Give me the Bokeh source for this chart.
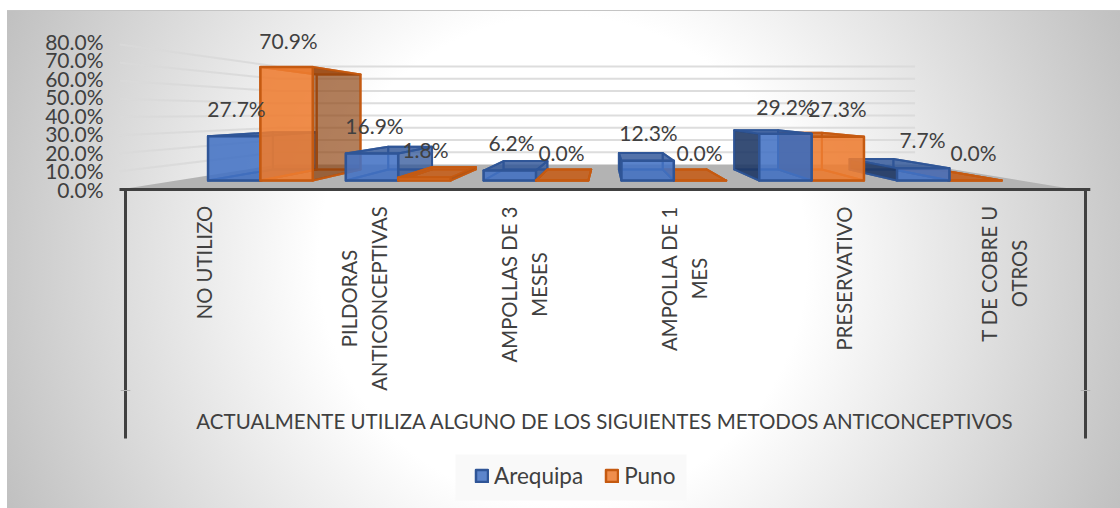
from bokeh.plotting import figure
from bokeh.models import (ColumnDataSource, Range1d, LinearAxis, FixedTicker, PrintfTickFormatter,
                          Legend, LegendItem)
from bokeh.core.properties import value
from bokeh.embed import file_html
from bokeh.resources import INLINE
import math

CATEGORIES = ["NO UTILIZO", "PILDORAS\nANTICONCEPTIVAS", "AMPOLLAS DE 3\nMESES",
              "AMPOLLA DE 1\nMES", "PRESERVATIVO", "T DE COBRE U\nOTROS"]
AREQUIPA = [27.7, 16.9, 6.2, 12.3, 29.2, 7.7]
PUNO = [70.9, 1.8, 0.0, 0.0, 27.3, 0.0]
VALUE_TICKS = [0, 10, 20, 30, 40, 50, 60, 70, 80]
AXIS_TITLE = "ACTUALMENTE UTILIZA ALGUNO DE LOS SIGUIENTES METODOS ANTICONCEPTIVOS"
SERIES_NAMES = ["Arequipa", "Puno"]

# layout (page pixels of the label anchors)
AREQ_LABEL_XY = [(236, 107), (374, 124), (511, 141), (648, 131), (785, 105), (922, 138)]
PUNO_LABEL_XY = [(288, 39), (425, 148), (561, 151), (699, 151), (837, 107), (973, 151)]
CAT_LABEL_MID = [261, 297, 283, 277, 277, 272]

FONT = value("Lato")
TXT = "#404040"
FS = "21px"
CAT_FS = "20.3px"
PAGE_L, PAGE_T = 7, 10
W, H = 1120 - PAGE_L, 508 - PAGE_T
FRAME_L = 101
BASE_Y = 179 - PAGE_T           # zero line of the front plane, frame px
PX_PER_PCT = 1.6
X0 = 191 - PAGE_L - FRAME_L     # category 0 of the bars' plane, frame px
PX_PER_CAT = 137.8
FRAME_W = W - FRAME_L
WALL_Y0 = 177.7

p = figure(width=W, height=H, output_backend="svg", toolbar_location=None,
           x_range=Range1d(-X0 / PX_PER_CAT, (FRAME_W - X0) / PX_PER_CAT),
           y_range=Range1d(-(H - BASE_Y) / PX_PER_PCT, BASE_Y / PX_PER_PCT),
           x_axis_location=None, y_axis_location=None,
           min_border_left=FRAME_L, min_border_right=0, min_border_top=0, min_border_bottom=0,
           margin=(PAGE_T, 0, 0, PAGE_L), outline_line_color=None,
           background_fill_color=None, border_fill_color=None)
p.center = []
p.styles = {
    "background": "radial-gradient(circle 610px at 556px 249px, #ffffff 40%, #c0c0c0 100%)",
    "border-top": "1px solid #c4c4c4",
    "box-sizing": "border-box",
}
p.extra_x_ranges = {"page": Range1d(PAGE_L + FRAME_L, PAGE_L + W),
                    "axis": Range1d((108 - 125) / 160, (1120 - 125) / 160)}
p.extra_y_ranges = {
    "page": Range1d(PAGE_T + H, PAGE_T),
    "wall": Range1d(-(H - WALL_Y0) / 1.846, WALL_Y0 / 1.846),
}

yaxis = LinearAxis(y_range_name="wall", ticker=FixedTicker(ticks=VALUE_TICKS),
                   formatter=PrintfTickFormatter(format="%.1f%%"),
                   axis_line_color=None, major_tick_line_color=None, minor_tick_line_color=None,
                   major_tick_out=0, major_tick_in=0,
                   major_label_text_font="Lato", major_label_text_font_size=FS,
                   major_label_text_color=TXT, major_label_standoff=5)
p.add_layout(yaxis, "left")

# perspective
VX, VY = 3.007, 42.5
BAR_T = 0.163
WALL_T = 0.235
FLOOR_T = -0.132
WALL_XL, WALL_XR, FLOOR_XR = -0.109, 5.94, 6.016


def proj(x, v, t):
    return x + t * (VX - x), v + t * (VY - v)


def quad(pts):
    xs, ys = zip(*[proj(*q) for q in pts])
    return list(xs), list(ys)


# floor
fx, fy = quad([(WALL_XL, 0, FLOOR_T), (FLOOR_XR, 0, FLOOR_T), (FLOOR_XR, 0, WALL_T), (WALL_XL, 0, WALL_T)])
p.patch(fx, fy, fill_color="#b3b3b3", line_color=None)

# gridlines on back wall and left wall
for v in VALUE_TICKS[1:]:
    gx, gy = quad([(WALL_XL, v, FLOOR_T), (WALL_XL, v, WALL_T), (WALL_XR, v, WALL_T)])
    p.line(gx, gy, line_color="#d9d9d9", line_width=2, line_alpha=0.9)

STYLES = {
    "Arequipa": dict(vals=AREQUIPA, edge="#2F5597", front="#4472C4", top="#2F5597", near="#2F5597",
                     far="#1F3864", off=-0.38, near_a=0.72),
    "Puno": dict(vals=PUNO, edge="#C55A11", front="#ED7D31", top="#C55A11", near="#843C0C",
                 far="#843C0C", off=0.0, near_a=0.62),
}


def draw_bar(name, i):
    st = STYLES[name]
    val = st["vals"][i]
    xs, ys, fc, fa = [], [], [], []

    def add(pts, color, alpha):
        a, b = quad(pts)
        xs.append(a); ys.append(b); fc.append(color); fa.append(alpha)

    x0 = i + 0.5 + st["off"]
    x1 = x0 + 0.38
    add([(x0, 0, BAR_T), (x1, 0, BAR_T), (x1, val, BAR_T), (x0, val, BAR_T)], st["front"], 0.15)
    add([(x0, 0, 0), (x1, 0, 0), (x1, 0, BAR_T), (x0, 0, BAR_T)], st["top"], 0.25)
    left = [(x0, 0, 0), (x0, val, 0), (x0, val, BAR_T), (x0, 0, BAR_T)]
    right = [(x1, 0, 0), (x1, val, 0), (x1, val, BAR_T), (x1, 0, BAR_T)]
    top = [(x0, val, 0), (x1, val, 0), (x1, val, BAR_T), (x0, val, BAR_T)]
    if x1 < VX:
        add(left, st["front"], 0.15)
        add(top, st["top"], 0.8)
        add(right, st["near"], st["near_a"])
    else:
        add(right, st["front"], 0.15)
        add(top, st["top"], 0.8)
        add(left, st["far"], 0.88)
    src = ColumnDataSource(dict(xs=xs, ys=ys, fc=fc, fa=fa))
    p.patches("xs", "ys", source=src, fill_color="fc", fill_alpha="fa",
              line_color=st["edge"], line_width=2, line_alpha=0.9, line_join="round")
    a, b = quad([(x0, 0, 0), (x1, 0, 0), (x1, val, 0), (x0, val, 0)])
    return p.patch(a, b, fill_color=st["front"], fill_alpha=0.86,
                   line_color=st["edge"], line_width=2.5, line_join="round")


# painter's order: from the outside toward the vanishing point on each half
n = len(CATEGORIES)
first_front = {}
order = [(nm, i) for i in range(n // 2) for nm in SERIES_NAMES]
order += [(nm, i) for i in range(n - 1, n // 2 - 1, -1) for nm in reversed(SERIES_NAMES)]
for nm, i in order:
    r = draw_bar(nm, i)
    first_front.setdefault(nm, r)

# category axis frame (drawn on the category scale of the axis plane)
AXC = "#404040"
p.segment([-0.0375, 0, 6], [188, 188, 188], [6.03, 0, 6], [188, 437, 437],
          x_range_name="axis", y_range_name="page", line_color=AXC, line_width=3)
p.segment([-0.03, 5.97], [389, 389], [0.03, 6.03], [389, 389],
          x_range_name="axis", y_range_name="page", line_color="#b0b0b0", line_width=1)

# category labels
lx, ly, lt = [], [], []
for i, (c, mid) in enumerate(zip(CATEGORIES, CAT_LABEL_MID)):
    parts = c.split("\n")
    for j, part in enumerate(parts):
        lx.append(i + 0.5 + ((j - (len(parts) - 1) / 2) * 29.5 - 1.5) / 160)
        ly.append(mid)
        lt.append(part)
p.text(lx, ly, text=lt, x_range_name="axis", y_range_name="page", angle=math.pi / 2,
       text_align="center", text_baseline="middle", text_font=FONT, text_font_size=CAT_FS, text_color=TXT)

p.text([605], [419.5], text=[AXIS_TITLE], x_range_name="page", y_range_name="page",
       text_align="center", text_baseline="middle", text_font=FONT, text_font_size="20.5px", text_color=TXT)

# data labels
for vals, xy in ((AREQUIPA, AREQ_LABEL_XY), (PUNO, PUNO_LABEL_XY)):
    p.text([q[0] for q in xy], [q[1] for q in xy], text=["%.1f%%" % v for v in vals],
           x_range_name="page", y_range_name="page", text_align="center", text_baseline="middle",
           text_font=FONT, text_font_size=FS, text_color=TXT)

# legend backdrop and legend
p.quad(left=[455], right=[686], top=[453], bottom=[499], x_range_name="page", y_range_name="page",
       fill_color="#f8f8f8", fill_alpha=0.9, line_color=None)
legend = Legend(items=[LegendItem(label=nm, renderers=[first_front[nm]]) for nm in SERIES_NAMES],
                orientation="horizontal", location=(366, 20), margin=0, padding=0, spacing=21,
                glyph_width=15, glyph_height=15, label_standoff=5,
                label_text_font="Lato", label_text_font_size="22.5px", label_text_color=TXT,
                background_fill_color=None, border_line_color=None)
p.add_layout(legend)

open("out.html", "w").write(file_html(p, INLINE))
